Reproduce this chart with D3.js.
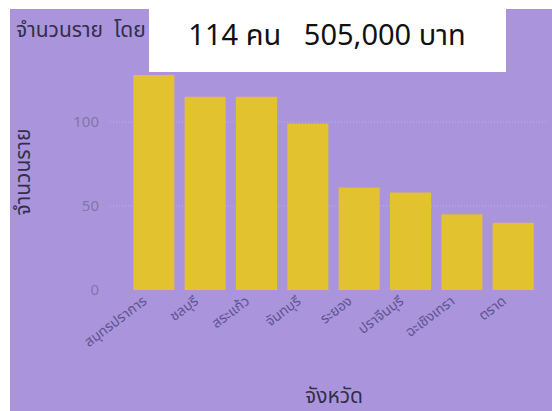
<!DOCTYPE html>
<html>
<head>
<meta charset="utf-8">
<script src="https://cdn.jsdelivr.net/npm/d3@7"></script>
<style>
  body { margin: 0; background: #fff; }
  svg { display: block; }
</style>
</head>
<body>
<svg id="mysvg" width="552" height="411"></svg>
<script>
// provinces and counts
var provinces = ["สมุทรปราการ", "ชลบุรี", "สระแก้ว", "จันทบุรี", "ระยอง", "ปราจีนบุรี", "ฉะเชิงเทรา", "ตราด"];
var counts = [128, 115, 115, 99, 61, 58, 45, 40];
var yTicks = [0, 50, 100];
var cardText = "114 คน   505,000 บาท";

var font = "'Noto Sans', 'Noto Sans Thai', Tahoma, sans-serif";
var svg = d3.select("#mysvg");

// purple card background
svg.append("rect")
  .attr("x", 10).attr("y", 9)
  .attr("width", 542).attr("height", 402)
  .attr("fill", "#aa95dd");

// chart title, the white box below covers most of it (as in the original)
svg.append("text")
  .attr("x", 16).attr("y", 37)
  .style("font-family", font)
  .style("font-size", "21px")
  .style("white-space", "pre")
  .attr("fill", "#342e48")
  .text("จำนวนราย  โดย จังหวัด");

var xScale = d3.scaleBand().domain(provinces).range([123, 544]).padding(0.2);
var yScale = d3.scaleLinear().domain([0, 130]).range([290, 290 - 130 * 1.68]);

// gridlines
svg.append("g")
  .selectAll("line")
  .data(yTicks.filter(function (d) { return d > 0; }))
  .enter().append("line")
  .attr("x1", 110).attr("x2", 548)
  .attr("y1", function (d) { return yScale(d); })
  .attr("y2", function (d) { return yScale(d); })
  .attr("stroke", "#bcaee6")
  .attr("stroke-dasharray", "1,2");

// y axis
var yAxis = svg.append("g")
  .attr("transform", "translate(99,0)")
  .call(d3.axisLeft(yScale).tickValues(yTicks).tickSize(0).tickPadding(0));
yAxis.select(".domain").remove();
yAxis.selectAll("text")
  .style("font-family", font)
  .style("font-size", "15px")
  .attr("fill", "#8077a8");

// bars
svg.append("g")
  .selectAll("rect")
  .data(counts)
  .enter().append("rect")
  .attr("x", function (d, i) { return xScale(provinces[i]); })
  .attr("y", function (d) { return yScale(d); })
  .attr("width", xScale.bandwidth())
  .attr("height", function (d) { return yScale(0) - yScale(d); })
  .attr("fill", "#e2c22f");

// x labels, rotated
svg.append("g")
  .selectAll("text")
  .data(provinces)
  .enter().append("text")
  .attr("transform", function (d) {
    return "translate(" + (xScale(d) + xScale.bandwidth() / 2 - 9) + ",299) rotate(-37)";
  })
  .attr("dy", "0.35em")
  .style("text-anchor", "end")
  .style("font-family", font)
  .style("font-size", "14px")
  .attr("fill", "#5e5490")
  .text(function (d) { return d; });

// axis titles
svg.append("text")
  .attr("x", 334).attr("y", 403)
  .style("text-anchor", "middle")
  .style("font-family", font)
  .style("font-size", "21px")
  .attr("fill", "#342e48")
  .text("จังหวัด");

svg.append("text")
  .attr("transform", "translate(30,172) rotate(-90)")
  .style("text-anchor", "middle")
  .style("font-family", font)
  .style("font-size", "21px")
  .attr("fill", "#342e48")
  .text("จำนวนราย");

// white summary box on top
svg.append("rect")
  .attr("x", 149).attr("y", 0)
  .attr("width", 357).attr("height", 72)
  .attr("fill", "#ffffff");
svg.append("text")
  .attr("x", 327).attr("y", 45)
  .style("text-anchor", "middle")
  .style("font-family", font)
  .style("font-size", "29px")
  .style("white-space", "pre")
  .attr("fill", "#111")
  .text(cardText);
</script>
</body>
</html>
